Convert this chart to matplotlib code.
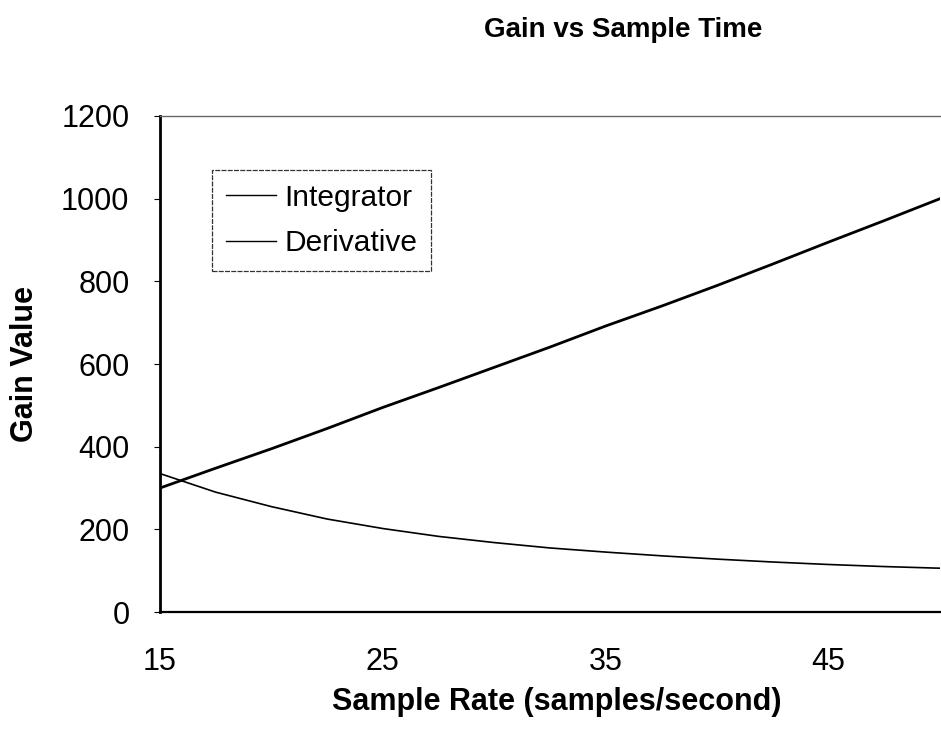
"""Gain vs sample time: integrator and derivative gains."""
import matplotlib

matplotlib.use("Agg")
import matplotlib.pyplot as plt

plt.rcParams["font.family"] = ["Liberation Sans", "DejaVu Sans"]

# values
sample_rate = [15, 17.5, 20, 22.5, 25, 27.5, 30, 32.5, 35, 37.5, 40, 42.5, 45, 47.5, 50]
integrator = [300, 348, 395, 444, 495, 543, 592, 641, 692, 740, 790, 842, 895, 947, 1000]
derivative = [335, 290, 255, 225, 202, 183, 168, 155, 145, 136, 128, 121, 115, 110, 106]

x_ticks = [15, 25, 35, 45]
y_ticks = [0, 200, 400, 600, 800, 1000, 1200]

fig = plt.figure(figsize=(9.41, 7.30), dpi=100)
ax = fig.add_axes([0.170, 0.1616, 0.829, 0.6795])

ax.plot(sample_rate, integrator, color="black", lw=2.0, label="Integrator")
ax.plot(sample_rate, derivative, color="black", lw=1.2, label="Derivative")

ax.set_xlim(15, 50)
ax.set_ylim(0, 1200)
ax.set_xticks(x_ticks)
ax.set_yticks(y_ticks)
ax.tick_params(axis="y", length=4, width=0.8, pad=18, labelsize=22)
ax.tick_params(axis="x", length=0, pad=25, labelsize=22)

ax.spines["left"].set_linewidth(2.0)
ax.spines["bottom"].set_linewidth(1.6)
ax.spines["top"].set_linewidth(1.0)
ax.spines["top"].set_color("#666666")
ax.spines["right"].set_visible(False)

ax.set_ylabel("Gain Value", fontsize=22, fontweight="bold")
ax.yaxis.set_label_coords(-0.154, 0.5)
ax.set_xlabel("Sample Rate (samples/second)", fontsize=22, fontweight="bold")
ax.xaxis.set_label_coords(0.508, -0.151)

fig.text(0.662, 0.959, "Gain vs Sample Time", fontsize=20, fontweight="bold",
         ha="center", va="center")

leg = ax.legend(loc="upper left", bbox_to_anchor=(0.067, 0.891), borderaxespad=0,
                fontsize=21.5, handlelength=1.67, handletextpad=0.3,
                labelspacing=0.6, borderpad=0.45, fancybox=False, framealpha=1)
leg.get_frame().set_edgecolor("#333333")
leg.get_frame().set_linestyle((0, (4, 1)))
leg.get_frame().set_linewidth(0.9)
for line in leg.get_lines():
    line.set_linewidth(1.0)

fig.savefig("out.png", dpi=100)
plt.close(fig)
